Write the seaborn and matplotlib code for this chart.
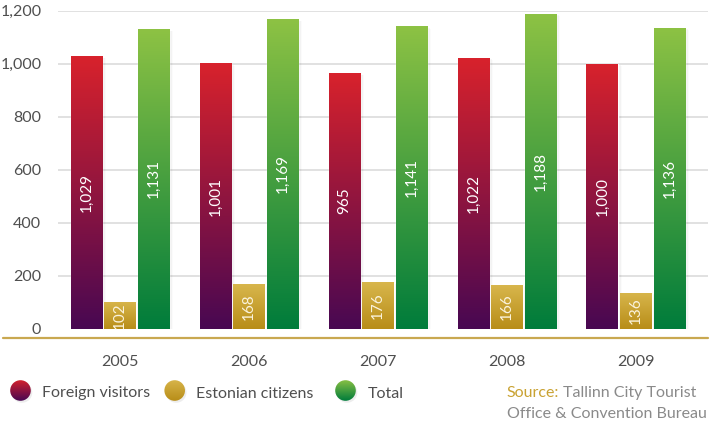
import numpy as np
import pandas as pd
import matplotlib
matplotlib.use("Agg")
import matplotlib.pyplot as plt
from matplotlib.colors import LinearSegmentedColormap
from matplotlib.patches import Circle
from matplotlib.lines import Line2D
import seaborn as sns

years = ["2005", "2006", "2007", "2008", "2009"]
series = ["Foreign visitors", "Estonian citizens", "Total"]
foreign = [1029, 1001, 965, 1022, 1000]
estonian = [102, 168, 176, 166, 136]
total = [1131, 1169, 1141, 1188, 1136]
labels_foreign = ["1,029", "1,001", "965", "1,022", "1,000"]
labels_estonian = ["102", "168", "176", "166", "136"]
labels_total = ["1,131", "1,169", "1,141", "1,188", "1,136"]
yticks = [0, 200, 400, 600, 800, 1000, 1200]

grads = {
    "Foreign visitors": ("#d8222c", "#480852"),
    "Estonian citizens": ("#d8b64c", "#b88d18"),
    "Total": ("#8dc244", "#007c3b"),
}
mid = {"Foreign visitors": "#8e1640", "Estonian citizens": "#c9a232", "Total": "#3f9d3c"}

sns.set_theme(style="white")
plt.rcParams["font.family"] = ["Lato", "DejaVu Sans"]
TXT = "#4f4f4f"
FS = 11.5

df = pd.DataFrame({
    "year": years * 3,
    "series": [series[0]] * 5 + [series[1]] * 5 + [series[2]] * 5,
    "value": foreign + estonian + total,
    "label": labels_foreign + labels_estonian + labels_total,
})

W, H = 718, 423
fig = plt.figure(figsize=(W / 100, H / 100), dpi=100)
L, R, T, B = 58, 708, 10.7, 338
ax = fig.add_axes([L / W, 1 - B / H, (R - L) / W, (B - T) / H])

sns.barplot(data=df, x="year", y="value", hue="series", hue_order=series,
            palette=mid, width=0.78, gap=0.06, dodge=True, legend=False,
            errorbar=None, ax=ax)

bars = [p for p in ax.patches if p.get_height() > 0]
for i, p in enumerate(bars):
    s = series[i // 5]
    top, bot = grads[s]
    cmap = LinearSegmentedColormap.from_list("g", [bot, top])
    x0, y0 = p.get_x(), p.get_y()
    w, h = p.get_width(), p.get_height()
    for k, a in enumerate([0.045, 0.03, 0.015]):
        ax.add_patch(plt.Rectangle((x0 + 0.01 * (k + 1), y0), w, h - 3 * (k + 1),
                                   color="black", alpha=a, lw=0, zorder=1))
    grad = np.linspace(0, 1, 256).reshape(-1, 1)
    im = ax.imshow(grad, cmap=cmap, extent=(x0, x0 + w, y0, y0 + h),
                   origin="lower", aspect="auto", zorder=3)
    im.set_clip_path(p)
    p.set_zorder(2)
    val = df["label"].iloc[i]
    ax.text(x0 + w / 2, y0 + h / 2, val, rotation=90, ha="center", va="center",
            color="white" if s != "Estonian citizens" else "#fbf3dc",
            fontsize=11, zorder=5)

ax.set_xlim(-0.48, 4.56)
ax.set_ylim(-35, 1200)
ax.set_yticks(yticks)
ax.set_yticklabels([f"{v:,}" for v in yticks])
ax.tick_params(axis="y", length=0, pad=12, labelsize=FS, labelcolor=TXT)
ax.tick_params(axis="x", length=0, pad=12, labelsize=FS, labelcolor=TXT)
ax.set_xlabel("")
ax.set_ylabel("")
for sp in ax.spines.values():
    sp.set_visible(False)
for v in yticks[1:]:
    ax.axhline(v, color="#dcdcdc", lw=1.2, zorder=0)

fig.add_artist(Line2D([3 / W, 708 / W], [1 - 338 / H] * 2, color="#c9a850", lw=1.6))

ov = fig.add_axes([0, 0, 1, 1])
ov.axis("off")
ov.patch.set_alpha(0)
for (cx, tx), s in zip([(20.5, 41.5), (174.7, 196.5), (345.5, 367.3)], series):
    top, bot = grads[s]
    cmap = LinearSegmentedColormap.from_list("g", [bot, top])
    ov.add_patch(Circle((cx + 1.5, 392.5), 10.3, color="black", alpha=0.07, lw=0))
    c = Circle((cx, 390.5), 10.3, color="none", lw=0)
    ov.add_patch(c)
    im = ov.imshow(np.linspace(1, 0, 64).reshape(-1, 1), cmap=cmap,
                   extent=(cx - 11, cx + 11, 401.5, 379.5), aspect="auto", zorder=3)
    im.set_clip_path(c)
    ov.text(tx, 397.5, s, fontsize=FS, color=TXT, va="baseline", ha="left")
ov.set_xlim(0, W)
ov.set_ylim(H, 0)

t1 = ov.text(506.7, 396.7, "Source:", fontsize=FS, color="#c9a232", va="baseline", ha="left")
fig.canvas.draw()
bb = t1.get_window_extent()
x_after = bb.x1 + 3.5
ov.text(x_after, 396.7, "Tallinn City Tourist", fontsize=FS, color="#8a8a8a",
        va="baseline", ha="left")
ov.text(506.7, 418, "Office & Convention Bureau", fontsize=FS, color="#8a8a8a",
        va="baseline", ha="left")

fig.savefig("out.png", dpi=100)
